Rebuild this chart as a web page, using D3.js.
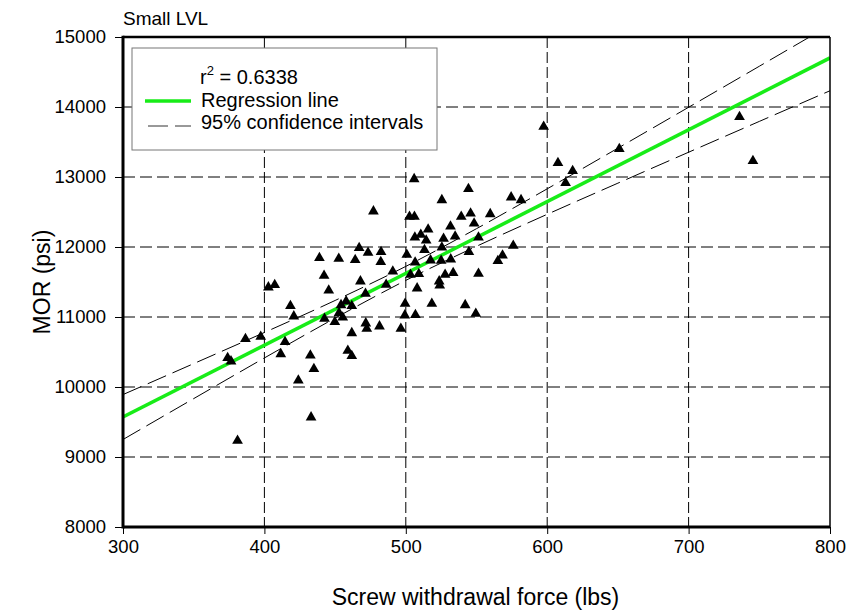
<!DOCTYPE html>
<html>
<head>
<meta charset="utf-8">
<script src="https://cdn.jsdelivr.net/npm/d3@7"></script>
<style>
  body { margin: 0; background: #fff; }
  text { font-family: "Liberation Sans", Arial, sans-serif; fill: #000; }
</style>
</head>
<body>
<div class="chart"></div>
<script>
// screw withdrawal force (lbs) vs MOR (psi)
const forceLbs = [381, 433, 424, 435, 432.5, 411.6, 414.6, 420.8, 418.4, 402.8, 407.3, 397.4, 386.6, 374, 376.4,
  438.9, 442.2, 445.5, 452.6, 464.2, 467, 473.3, 477.1, 482.5, 482.3, 467.9, 471.5, 486.1, 490.8, 500.7,
  502.6, 506.1, 505.9, 506.4, 510.6, 515.8, 514.4, 513.2, 506.6, 503.3, 509.2, 508, 499.5, 499.3, 506.8,
  496.5, 481.4, 471.7, 472.4, 461.8, 459, 461.8, 449.8, 442.5, 455.4, 452.8, 454.2, 457.8, 461.8, 517.5,
  518.4, 525, 527.8, 533.5, 523.6, 524, 531.8, 525.5, 526.7, 531.6, 534.9, 525.5, 539.2, 545.8, 548.3,
  544.3, 551.4, 544.6, 551.4, 542, 549.5, 559.7, 574.5, 581.5, 568.4, 565.1, 576, 597.5, 607.6, 618,
  613, 651, 736, 745.5];
const morPsi = [9233, 9567, 10095, 10257, 10452, 10471, 10643, 11010, 11157, 11424, 11457, 10719, 10686, 10414, 10367,
  11843, 11590, 11381, 11833, 11814, 11986, 11919, 12510, 11929, 11786, 11510, 11333, 11462, 11652, 11890,
  12433, 12433, 12971, 12138, 12176, 12252, 12095, 11957, 11781, 11605, 11614, 11410, 11190, 11024, 11029,
  10833, 10867, 10910, 10833, 10771, 10519, 10443, 10929, 10976, 10995, 11057, 11171, 11224, 11157, 11810,
  11190, 11805, 11605, 11629, 11510, 11452, 11824, 11995, 12119, 12295, 12152, 12671, 12433, 12481, 12338,
  12829, 12138, 11929, 11619, 11171, 11048, 12471, 12710, 12671, 11881, 11800, 12020, 13720, 13200, 13086,
  12914, 13400, 13857, 13229];

// regression line end points
const regX = [300, 800];
const regY = [9571, 14701];

// 95% confidence bands
const ciX = [300, 350, 400, 450, 500, 550, 600, 650, 700, 750, 800];
const ciUpper = [9892, 10334, 10779, 11236, 11723, 12262, 12831, 13412, 13996, 14582, 15170];
const ciLower = [9250, 9834, 10415, 10984, 11523, 12010, 12467, 12912, 13354, 13794, 14232];

const xTicks = [300, 400, 500, 600, 700, 800];
const yTicks = [8000, 9000, 10000, 11000, 12000, 13000, 14000, 15000];

const W = 848, H = 613;
const pL = 123, pR = 830, pT = 37, pB = 527;

const svg = d3.select(".chart").append("svg")
  .attr("width", W)
  .attr("height", H);

const x = d3.scaleLinear().domain([300, 800]).range([pL, pR]);
const y = d3.scaleLinear().domain([8000, 15000]).range([pB, pT]);

svg.append("clipPath").attr("id", "plot")
  .append("rect")
  .attr("x", pL).attr("y", pT)
  .attr("width", pR - pL).attr("height", pB - pT);

// grid
svg.append("g").selectAll("line")
  .data(xTicks.slice(1, -1))
  .enter().append("line")
  .attr("x1", d => x(d)).attr("x2", d => x(d))
  .attr("y1", pT).attr("y2", pB)
  .attr("stroke", "#000").attr("stroke-width", 1)
  .attr("stroke-dasharray", "11,4");

svg.append("g").selectAll("line")
  .data(yTicks.slice(1, -1))
  .enter().append("line")
  .attr("x1", pL).attr("x2", pR)
  .attr("y1", d => y(d)).attr("y2", d => y(d))
  .attr("stroke", "#000").attr("stroke-width", 1)
  .attr("stroke-dasharray", "12,5");

// axes
const yAxis = svg.append("g")
  .attr("transform", `translate(${pL},0)`)
  .call(d3.axisLeft(y).tickValues(yTicks).tickFormat(d3.format("d")).tickSize(8).tickPadding(9));
const xAxis = svg.append("g")
  .attr("transform", `translate(0,${pB})`)
  .call(d3.axisBottom(x).tickValues(xTicks).tickFormat(d3.format("d")).tickSize(7).tickPadding(6));

[yAxis, xAxis].forEach(g => {
  g.select(".domain").remove();
  g.selectAll("line").attr("stroke", "#000").attr("stroke-width", 1);
  g.selectAll("text")
    .attr("font-family", '"Liberation Sans", Arial, sans-serif')
    .attr("font-size", "18.5px")
    .attr("fill", "#000");
});

// confidence bands
const ciLine = d3.line().curve(d3.curveMonotoneX)
  .x(d => x(d[0])).y(d => y(d[1]));
const band = svg.append("g").attr("clip-path", "url(#plot)");
[ciUpper, ciLower].forEach(vals => {
  band.append("path")
    .datum(ciX.map((v, i) => [v, vals[i]]))
    .attr("d", ciLine)
    .attr("fill", "none")
    .attr("stroke", "#000")
    .attr("stroke-width", 1)
    .attr("stroke-dasharray", "20,7");
});

// regression line
band.append("path")
  .datum(regX.map((v, i) => [v, regY[i]]))
  .attr("d", d3.line().x(d => x(d[0])).y(d => y(d[1])))
  .attr("fill", "none")
  .attr("stroke", "#18ec18")
  .attr("stroke-width", 3.5);

// points
svg.append("g").selectAll("path")
  .data(forceLbs.map((v, i) => [v, morPsi[i]]))
  .enter().append("path")
  .attr("d", d3.symbol().type(d3.symbolTriangle).size(50))
  .attr("transform", d => `translate(${x(d[0])},${y(d[1])})`)
  .attr("fill", "#000");

// frame
svg.append("line").attr("x1", pL).attr("x2", pR).attr("y1", pT).attr("y2", pT)
  .attr("stroke", "#000").attr("stroke-width", 2.5);
svg.append("line").attr("x1", pR).attr("x2", pR).attr("y1", pT).attr("y2", pB)
  .attr("stroke", "#000").attr("stroke-width", 1.5);
svg.append("line").attr("x1", pL).attr("x2", pL).attr("y1", pT - 1.25).attr("y2", pB + 1.5)
  .attr("stroke", "#000").attr("stroke-width", 3);
svg.append("line").attr("x1", pL).attr("x2", pR).attr("y1", pB).attr("y2", pB)
  .attr("stroke", "#000").attr("stroke-width", 3);

// legend
const lg = svg.append("g");
lg.append("rect")
  .attr("x", 132).attr("y", 48).attr("width", 305).attr("height", 102)
  .attr("fill", "#fff").attr("stroke", "#777").attr("stroke-width", 1);
const r2 = lg.append("text").attr("x", 200).attr("y", 84).attr("font-size", "20px");
r2.append("tspan").text("r");
r2.append("tspan").attr("font-size", "13px").attr("dy", -9).text("2");
r2.append("tspan").attr("dy", 9).text(" = 0.6338");
lg.append("line").attr("x1", 145).attr("x2", 191).attr("y1", 101).attr("y2", 101)
  .attr("stroke", "#18ec18").attr("stroke-width", 3.5);
lg.append("text").attr("x", 201).attr("y", 107).attr("font-size", "20px").text("Regression line");
lg.append("line").attr("x1", 148).attr("x2", 191).attr("y1", 126).attr("y2", 126)
  .attr("stroke", "#333").attr("stroke-width", 1).attr("stroke-dasharray", "20,7");
lg.append("text").attr("x", 201).attr("y", 129).attr("font-size", "20px").text("95% confidence intervals");

// titles
svg.append("text").attr("x", 123).attr("y", 25).attr("font-size", "19px").text("Small LVL");
svg.append("text")
  .attr("x", (pL + pR) / 2 - 1).attr("y", 605)
  .attr("text-anchor", "middle").attr("font-size", "23px")
  .text("Screw withdrawal force (lbs)");
svg.append("text")
  .attr("transform", `translate(50,${(pT + pB) / 2}) rotate(-90)`)
  .attr("text-anchor", "middle").attr("font-size", "23px")
  .text("MOR (psi)");
</script>
</body>
</html>
